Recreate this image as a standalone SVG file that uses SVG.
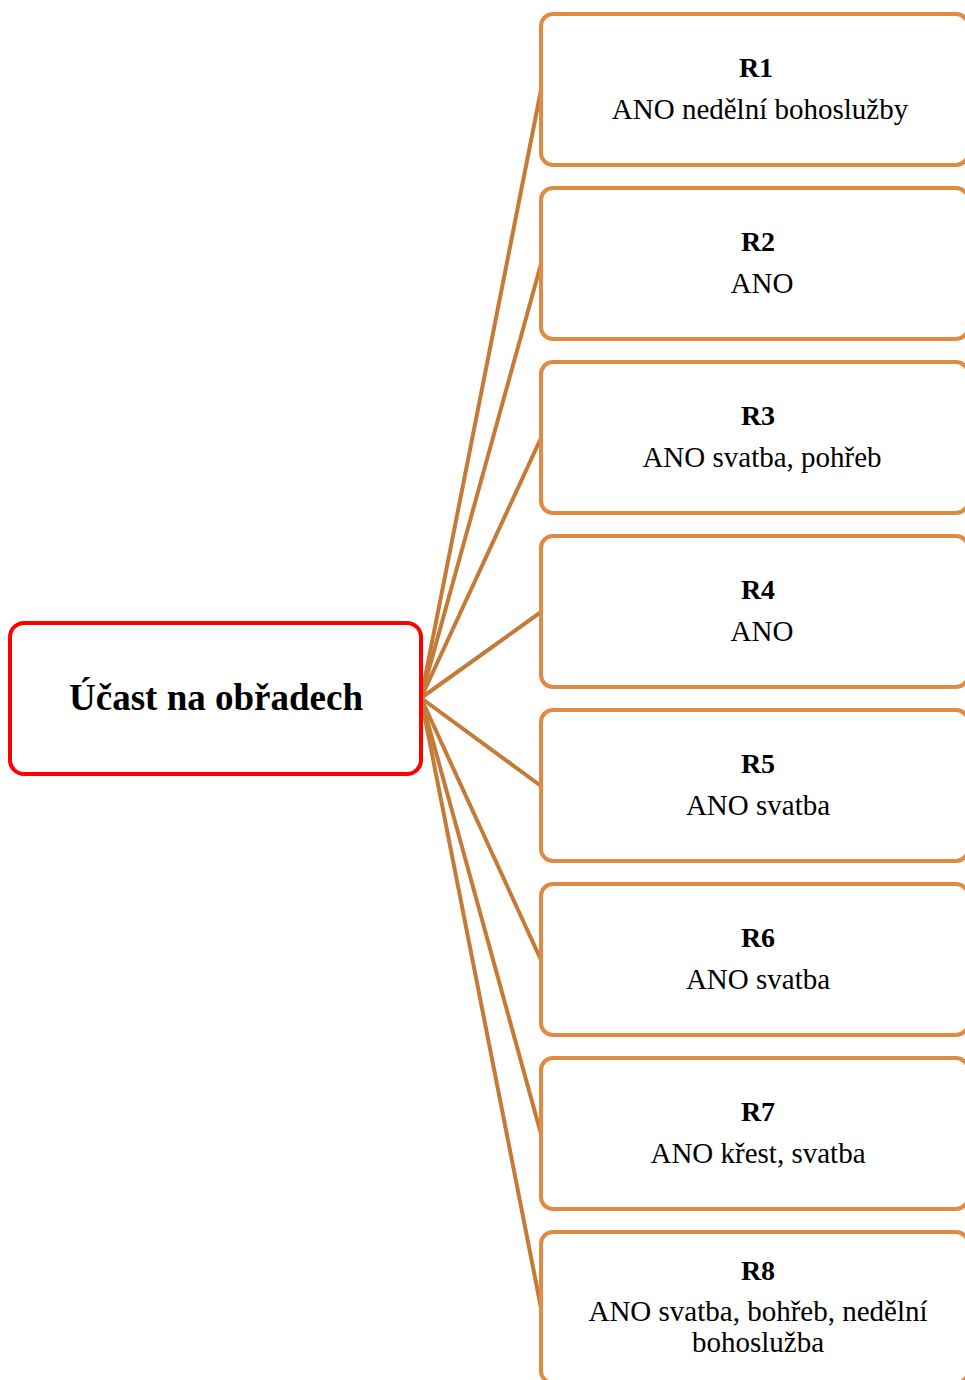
<svg xmlns="http://www.w3.org/2000/svg" width="965" height="1380" viewBox="0 0 965 1380">
<style>
.box{fill:#fff;stroke:#E08A42;stroke-width:4}
.main{fill:#fff;stroke:#FF0000;stroke-width:4}
.con{stroke:#C57B38;stroke-width:4;fill:none}
.h{font-family:"Liberation Serif",serif;font-weight:bold;font-size:28px;text-anchor:middle;fill:#000}
.t{font-family:"Liberation Serif",serif;font-size:29px;text-anchor:middle;fill:#000}
.title{font-family:"Liberation Serif",serif;font-weight:bold;font-size:37px;text-anchor:middle;fill:#000}
</style>
<g id="connectors">
<line class="con" x1="421" y1="698" x2="541" y2="90"/>
<line class="con" x1="421" y1="698" x2="541" y2="264"/>
<line class="con" x1="421" y1="698" x2="541" y2="438"/>
<line class="con" x1="421" y1="698" x2="541" y2="612"/>
<line class="con" x1="421" y1="698" x2="541" y2="786"/>
<line class="con" x1="421" y1="698" x2="541" y2="960"/>
<line class="con" x1="421" y1="698" x2="541" y2="1134"/>
<line class="con" x1="421" y1="698" x2="541" y2="1308"/>
</g>
<g id="main">
<rect class="main" x="10" y="623" width="411" height="151" rx="14"/>
<text class="title" x="216" y="710">Účast na obřadech</text>
</g>
<g id="r1">
<rect class="box" x="541" y="14" width="427" height="151" rx="12"/>
<text class="h" x="756" y="77">R1</text>
<text class="t" x="760" y="119">ANO nedělní bohoslužby</text>
</g>
<g id="r2">
<rect class="box" x="541" y="188" width="427" height="151" rx="12"/>
<text class="h" x="758" y="251">R2</text>
<text class="t" x="762" y="293">ANO</text>
</g>
<g id="r3">
<rect class="box" x="541" y="362" width="427" height="151" rx="12"/>
<text class="h" x="758" y="425">R3</text>
<text class="t" x="762" y="467">ANO svatba, pohřeb</text>
</g>
<g id="r4">
<rect class="box" x="541" y="536" width="427" height="151" rx="12"/>
<text class="h" x="758" y="599">R4</text>
<text class="t" x="762" y="641">ANO</text>
</g>
<g id="r5">
<rect class="box" x="541" y="710" width="427" height="151" rx="12"/>
<text class="h" x="758" y="773">R5</text>
<text class="t" x="758" y="815">ANO svatba</text>
</g>
<g id="r6">
<rect class="box" x="541" y="884" width="427" height="151" rx="12"/>
<text class="h" x="758" y="947">R6</text>
<text class="t" x="758" y="989">ANO svatba</text>
</g>
<g id="r7">
<rect class="box" x="541" y="1058" width="427" height="151" rx="12"/>
<text class="h" x="758" y="1121">R7</text>
<text class="t" x="758" y="1163">ANO křest, svatba</text>
</g>
<g id="r8">
<rect class="box" x="541" y="1232" width="427" height="151" rx="12"/>
<text class="h" x="758" y="1280">R8</text>
<text class="t" x="758" y="1321">ANO svatba, bohřeb, nedělní</text>
<text class="t" x="758" y="1352">bohoslužba</text>
</g>
</svg>
